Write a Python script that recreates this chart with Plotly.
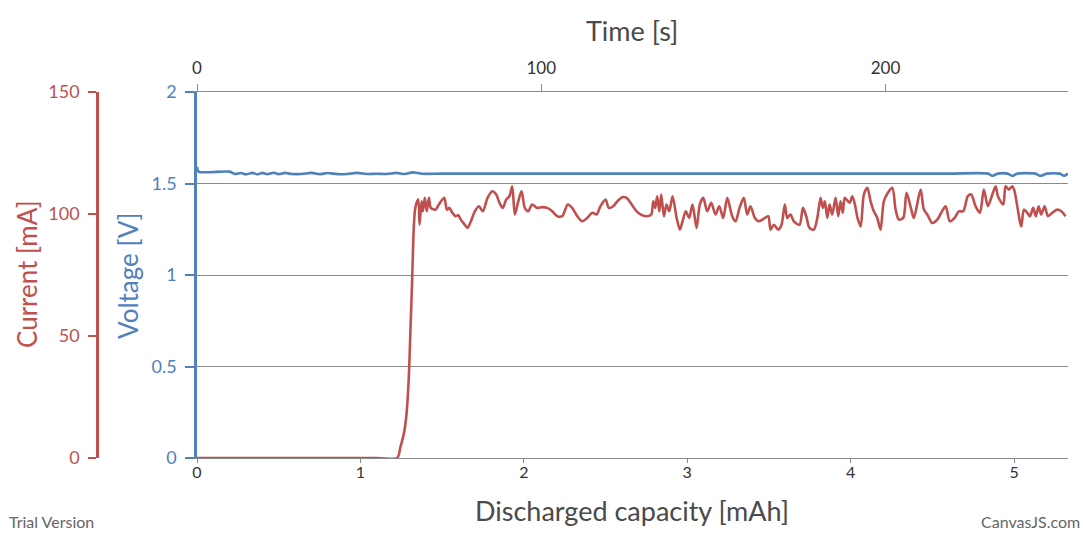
import plotly.graph_objects as go

# ---------------- data ----------------
# Current series (red): discharged capacity [mAh] vs current [mA]
cap_cur = [0.0, 1.10, 1.225, 1.245, 1.266, 1.282, 1.296, 1.307, 1.317, 1.327, 1.337,
           1.354, 1.362, 1.374, 1.382, 1.394, 1.406, 1.419, 1.431, 1.460, 1.480,
           1.513, 1.529, 1.545, 1.562, 1.582, 1.599, 1.614, 1.639, 1.655, 1.676,
           1.700, 1.725, 1.749, 1.778, 1.807, 1.831, 1.851, 1.871, 1.892, 1.912,
           1.929, 1.945, 1.966, 1.986, 2.006, 2.027, 2.051, 2.082, 2.113, 2.143,
           2.174, 2.205, 2.235, 2.269, 2.296, 2.327, 2.357, 2.388, 2.419, 2.445,
           2.469, 2.500, 2.520, 2.547, 2.572, 2.602, 2.629, 2.657, 2.690, 2.725,
           2.755, 2.780, 2.792, 2.804, 2.816, 2.829, 2.841, 2.857, 2.873, 2.890,
           2.910, 2.935, 2.955, 2.971, 2.991, 3.012, 3.032, 3.057, 3.077, 3.098,
           3.122, 3.147, 3.173, 3.196, 3.220, 3.245, 3.275, 3.296, 3.320, 3.346,
           3.367, 3.387, 3.414, 3.438, 3.475, 3.496, 3.510, 3.530, 3.557, 3.577,
           3.597, 3.612, 3.632, 3.652, 3.687, 3.708, 3.728, 3.748, 3.775, 3.796,
           3.816, 3.830, 3.842, 3.857, 3.871, 3.887, 3.908, 3.924, 3.938, 3.952,
           3.964, 3.993, 4.010, 4.026, 4.042, 4.061, 4.081, 4.102, 4.122, 4.142,
           4.163, 4.183, 4.203, 4.228, 4.255, 4.275, 4.295, 4.322, 4.342, 4.371,
           4.387, 4.428, 4.448, 4.469, 4.499, 4.530, 4.554, 4.581, 4.607, 4.636,
           4.662, 4.689, 4.717, 4.738, 4.764, 4.791, 4.815, 4.840, 4.867, 4.887,
           4.901, 4.934, 4.948, 4.968, 4.989, 5.003, 5.044, 5.060, 5.081, 5.097,
           5.117, 5.133, 5.150, 5.166, 5.187, 5.207, 5.234, 5.264, 5.289, 5.315]
current_ma = [0, 0, 0, 4.5, 10, 18, 33, 54, 74, 95, 103,
              105.9, 95.6, 105.2, 101.1, 106.6, 101.1, 106.6, 102.5, 101.8, 103.9,
              106.6, 101.8, 102.5, 100.5, 99.1, 99.5, 97.7, 95.6, 94.3, 97.0,
              101.1, 103.2, 101.1, 106.6, 109.3, 108.0, 104.6, 102.5, 105.9, 107.3,
              111.4, 99.8, 105.2, 109.3, 102.5, 101.1, 103.9, 102.5, 102.8, 102.5,
              101.1, 99.1, 99.1, 103.9, 102.5, 99.1, 97.0, 98.4, 100.5, 99.8,
              103.2, 105.9, 102.5, 103.2, 105.2, 106.9, 106.6, 104.2, 101.1, 99.5,
              99.1, 99.8, 105.2, 102.5, 107.3, 101.1, 108.0, 99.1, 103.9, 101.1,
              107.3, 98.4, 93.6, 97.0, 101.1, 98.4, 103.9, 94.3, 103.9, 106.6,
              101.1, 104.6, 99.8, 103.2, 98.4, 106.6, 99.1, 97.0, 102.5, 106.6,
              99.8, 103.2, 98.4, 97.0, 98.4, 99.1, 93.6, 95.6, 93.6, 95.6,
              103.9, 98.4, 99.8, 97.0, 95.6, 102.5, 99.1, 94.3, 93.6, 98.4,
              106.6, 102.5, 105.2, 98.4, 103.9, 99.8, 106.6, 99.1, 105.2, 100.5,
              106.6, 104.6, 107.3, 103.9, 98.4, 94.9, 108.0, 110.7, 105.2, 101.1,
              98.4, 93.6, 105.2, 108.7, 110.7, 101.8, 97.7, 98.4, 108.7, 101.8,
              98.4, 110.0, 101.8, 99.8, 96.3, 97.7, 100.5, 103.2, 97.0, 98.4,
              101.1, 101.1, 107.3, 108.0, 103.2, 100.5, 110.0, 103.2, 108.0, 111.4,
              107.3, 103.9, 111.4, 110.0, 111.4, 109.3, 94.9, 101.8, 100.5, 99.1,
              102.5, 99.1, 103.2, 99.8, 103.2, 99.1, 100.5, 101.8, 101.1, 99.1]

# Voltage series (blue): discharged capacity [mAh] vs voltage [V]
cap_volt = [0.0, 0.01, 0.20, 0.23, 0.27, 0.30, 0.34, 0.37, 0.40, 0.43, 0.47,
            0.50, 0.54, 0.58, 0.64, 0.70, 0.75, 0.80, 0.86, 0.92, 0.98,
            1.04, 1.10, 1.16, 1.22, 1.27, 1.32, 1.38, 1.50, 1.80, 2.20,
            2.60, 3.00, 3.40, 3.80, 4.20, 4.60, 4.84, 4.867,
            4.90, 4.96, 4.989, 5.02, 5.13, 5.162, 5.20, 5.28, 5.305, 5.33]
voltage = [1.592, 1.565, 1.565, 1.552, 1.557, 1.550, 1.558, 1.550, 1.558, 1.551, 1.559,
           1.551, 1.558, 1.552, 1.552, 1.558, 1.551, 1.557, 1.551, 1.552, 1.558,
           1.552, 1.553, 1.552, 1.558, 1.552, 1.561, 1.553, 1.554, 1.554, 1.554,
           1.554, 1.554, 1.554, 1.554, 1.554, 1.554, 1.554, 1.542,
           1.554, 1.554, 1.542, 1.554, 1.554, 1.542, 1.554, 1.554, 1.542, 1.554]

time_range_s = [0, 253]
cap_range = [0, 5.33]
voltage_ticks = [0, 0.5, 1, 1.5, 2]
current_ticks = [0, 50, 100, 150]
time_ticks = [0, 100, 200]
cap_ticks = [0, 1, 2, 3, 4, 5]

# ---------------- style ----------------
BLUE = "#4F81BC"
RED = "#C0504E"
GRID = "#8a8a8a"
FONT = "Lato"
TITLE_COL = "#4a4a4a"
TICK_COL = "#333333"

ML, MR, MT, MB = 90, 15, 92, 75
W, H = 1083, 533
PW = W - ML - MR
PH = H - MT - MB


def px_x(px):
    return (px - ML) / PW


def px_y(py):
    return (H - MB - py) / PH


fig = go.Figure()

fig.add_trace(go.Scatter(
    x=cap_volt, y=voltage, mode="lines", name="Voltage",
    line=dict(color=BLUE, width=2.6, shape="spline", smoothing=0.8),
    xaxis="x", yaxis="y", hoverinfo="x+y"))

fig.add_trace(go.Scatter(
    x=cap_cur, y=current_ma, mode="lines", name="Current",
    line=dict(color=RED, width=2.6, shape="spline", smoothing=0.8),
    xaxis="x", yaxis="y2", hoverinfo="x+y"))

fig.add_trace(go.Scatter(
    x=time_range_s, y=[None, None], mode="lines", showlegend=False,
    xaxis="x2", yaxis="y", hoverinfo="skip"))

fig.update_layout(
    width=W, height=H,
    margin=dict(l=ML, r=MR, t=MT, b=MB),
    paper_bgcolor="white", plot_bgcolor="white",
    showlegend=False,
    font=dict(family=FONT, size=17, color=TICK_COL),
    xaxis=dict(
        domain=[px_x(197), 1], range=cap_range, tickvals=cap_ticks,
        showgrid=False, zeroline=False, showline=True, linecolor=GRID, linewidth=1,
        ticks="outside", ticklen=4, tickcolor=GRID, tickwidth=1, ticklabelstandoff=-4,
        tickfont=dict(size=16, color=TICK_COL), anchor="y"),
    xaxis2=dict(
        overlaying="x", side="top", anchor="y", range=time_range_s, tickvals=time_ticks,
        showgrid=False, zeroline=False, showline=True, linecolor=GRID, linewidth=1,
        ticks="outside", ticklen=7, tickcolor=GRID, tickwidth=1, ticklabelstandoff=3,
        tickfont=dict(size=17, color=TICK_COL)),
    yaxis=dict(
        domain=[0, 1], range=[0, 2], tickvals=voltage_ticks,
        showgrid=True, gridcolor=GRID, gridwidth=1, zeroline=False,
        showline=True, linecolor=BLUE, linewidth=2.5,
        ticks="outside", ticklen=9, tickcolor=BLUE, tickwidth=1.5, ticklabelstandoff=5,
        tickfont=dict(size=18, color=BLUE), anchor="x"),
    yaxis2=dict(
        overlaying="y", side="left", anchor="free", position=px_x(97),
        range=[0, 150], tickvals=current_ticks,
        showgrid=False, zeroline=False, showline=True, linecolor=RED, linewidth=2.5,
        ticks="outside", ticklen=8, tickcolor=RED, tickwidth=2, ticklabelstandoff=5,
        tickfont=dict(size=18, color=RED)),
    annotations=[
        dict(text="Current [mA]", textangle=-90, x=px_x(27), y=px_y(274),
             xref="paper", yref="paper", showarrow=False,
             font=dict(size=26, color=RED, family=FONT), xanchor="center", yanchor="middle"),
        dict(text="Voltage [V]", textangle=-90, x=px_x(128), y=px_y(276),
             xref="paper", yref="paper", showarrow=False,
             font=dict(size=26, color=BLUE, family=FONT), xanchor="center", yanchor="middle"),
        dict(text="Time [s]", x=px_x(632), y=px_y(30),
             xref="paper", yref="paper", showarrow=False,
             font=dict(size=27, color=TITLE_COL, family=FONT), xanchor="center", yanchor="middle"),
        dict(text="Discharged capacity [mAh]", x=px_x(632), y=px_y(510),
             xref="paper", yref="paper", showarrow=False,
             font=dict(size=27, color=TITLE_COL, family=FONT), xanchor="center", yanchor="middle"),
        dict(text="Trial Version", x=px_x(7), y=px_y(533),
             xref="paper", yref="paper", showarrow=False,
             font=dict(size=16, color="#666666", family=FONT), xanchor="left", yanchor="bottom"),
        dict(text="CanvasJS.com", x=px_x(1082), y=px_y(533),
             xref="paper", yref="paper", showarrow=False,
             font=dict(size=16, color="#666666", family=FONT), xanchor="right", yanchor="bottom"),
    ],
)

fig.write_html("out.html")
